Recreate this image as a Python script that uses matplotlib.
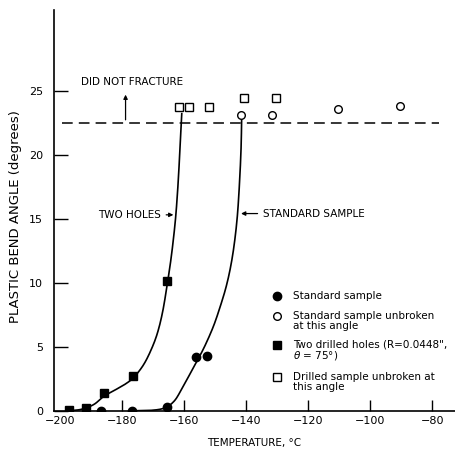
import numpy as np
import matplotlib.pyplot as plt

# standard sample, fractured
std_x = [-186.6, -176.6, -165.3, -156.0, -152.7]
std_y = [0.0, 0.0, 0.3, 4.2, 4.3]
# standard sample unbroken
std_open_x = [-141.5, -131.5, -110.5, -90.5]
std_open_y = [23.1, 23.1, 23.6, 23.8]
# two drilled holes, fractured
hol_x = [-196.9, -191.5, -185.6, -176.3, -165.3]
hol_y = [0.1, 0.2, 1.4, 2.7, 10.1]
# drilled sample unbroken
hol_open_x = [-161.5, -158.5, -151.8, -140.5, -130.5]
hol_open_y = [23.75, 23.75, 23.75, 24.4, 24.4]

# hand-drawn curves
hol_curve_x = [-197.5, -193, -189, -185.7, -182, -178.5, -176, -173, -170.5, -168.5,
               -166.8, -165.3, -164.2, -163.3, -162.6, -162.0, -161.5, -161.0, -160.7]
hol_curve_y = [0.0, 0.12, 0.5, 1.15, 1.65, 2.15, 2.65, 3.6, 4.8, 6.1,
               7.8, 10.0, 11.8, 13.6, 15.3, 17.3, 19.4, 21.8, 23.2]
std_curve_x = [-177, -170, -166, -163, -160.5, -158, -155.5, -153, -150.5, -148.5,
               -146.5, -145, -143.8, -142.8, -142.1, -141.6, -141.4]
std_curve_y = [0.0, 0.05, 0.25, 0.8, 1.8, 2.9, 4.0, 5.2, 6.6, 8.0,
               9.6, 11.2, 13.0, 15.2, 17.8, 20.5, 23.0]

fracture_limit = 22.5
xticks = [-200, -180, -160, -140, -120, -100, -80]
yticks = [0, 5, 10, 15, 20, 25]


def smooth(xs, ys, n=12):
    # catmull-rom through the read points, just to draw a smooth pen line
    p = np.column_stack([xs, ys])
    p = np.vstack([p[0], p, p[-1]])
    out = []
    t = np.linspace(0, 1, n, endpoint=False)[:, None]
    for i in range(1, len(p) - 2):
        p0, p1, p2, p3 = p[i - 1], p[i], p[i + 1], p[i + 2]
        seg = 0.5 * (2 * p1 + (-p0 + p2) * t + (2 * p0 - 5 * p1 + 4 * p2 - p3) * t ** 2
                     + (-p0 + 3 * p1 - 3 * p2 + p3) * t ** 3)
        out.append(seg)
    out.append(p[-2][None, :])
    out = np.vstack(out)
    return out[:, 0], out[:, 1]


fig = plt.figure(figsize=(4.55, 4.49), dpi=100)
ax = fig.add_axes([0.119, 0.085, 0.881, 0.893])

ax.plot(*smooth(hol_curve_x, hol_curve_y), color="black", lw=1.2)
ax.plot(*smooth(std_curve_x, std_curve_y), color="black", lw=1.2)
ax.axhline(fracture_limit, xmin=0.02, xmax=0.96, color="black", lw=1.1, dashes=(7, 4))

ax.plot(std_x, std_y, "o", color="black", ms=6)
ax.plot(std_open_x, std_open_y, "o", mfc="white", mec="black", ms=5.5, mew=1)
ax.plot(hol_x, hol_y, "s", color="black", ms=6)
ax.plot(hol_open_x, hol_open_y, "s", mfc="white", mec="black", ms=6, mew=1)

# annotations
ax.annotate("", xy=(-178.8, 24.9), xytext=(-178.8, 22.5),
            arrowprops=dict(arrowstyle="-|>", color="black", lw=0.9, mutation_scale=6))
ax.text(-176.6, 25.7, "DID NOT FRACTURE", fontsize=7.5, ha="center", va="center")
ax.annotate("TWO HOLES", xy=(-162.5, 15.3), xytext=(-167.5, 15.3),
            fontsize=7.5, ha="right", va="center",
            arrowprops=dict(arrowstyle="-|>", color="black", lw=0.9, mutation_scale=6))
ax.annotate("STANDARD SAMPLE", xy=(-142.5, 15.4), xytext=(-134.5, 15.4),
            fontsize=7.5, ha="left", va="center",
            arrowprops=dict(arrowstyle="-|>", color="black", lw=0.9, mutation_scale=6))

# legend drawn by hand
lx, tx = 0.555, 0.595
ax.plot(lx, 0.286, "o", color="black", ms=6, transform=ax.transAxes)
ax.text(tx, 0.286, "Standard sample", fontsize=7.5, va="center", transform=ax.transAxes)
ax.plot(lx, 0.236, "o", mfc="white", mec="black", ms=5.5, transform=ax.transAxes)
ax.text(tx, 0.236, "Standard sample unbroken", fontsize=7.5, va="center", transform=ax.transAxes)
ax.text(tx, 0.211, "at this angle", fontsize=7.5, va="center", transform=ax.transAxes)
ax.plot(lx, 0.165, "s", color="black", ms=6, transform=ax.transAxes)
ax.text(tx, 0.165, "Two drilled holes (R=0.0448\",", fontsize=7.5, va="center", transform=ax.transAxes)
ax.text(tx, 0.138, r"$\theta$ = 75°)", fontsize=7.5, va="center", transform=ax.transAxes)
ax.plot(lx, 0.085, "s", mfc="white", mec="black", ms=6, transform=ax.transAxes)
ax.text(tx, 0.085, "Drilled sample unbroken at", fontsize=7.5, va="center", transform=ax.transAxes)
ax.text(tx, 0.060, "this angle", fontsize=7.5, va="center", transform=ax.transAxes)

ax.set_xlim(-201.8, -72.7)
ax.set_ylim(0, 31.3)
ax.set_xticks(xticks)
ax.set_yticks(yticks)
ax.tick_params(direction="in", labelsize=8, width=1)
ax.tick_params(axis="x", length=8, pad=4)
ax.tick_params(axis="y", length=10, pad=8)
ax.xaxis.get_major_ticks()[0].tick1line.set_visible(False)
for s in ["top", "right"]:
    ax.spines[s].set_visible(False)
for s in ["left", "bottom"]:
    ax.spines[s].set_linewidth(1.2)

ax.set_xlabel("TEMPERATURE, °C", fontsize=7.5, labelpad=8)
ax.set_ylabel("PLASTIC BEND ANGLE (degrees)", fontsize=9.5, labelpad=6)
ax.yaxis.set_label_coords(-0.08, 0.485)

fig.savefig("out.png", dpi=100)
